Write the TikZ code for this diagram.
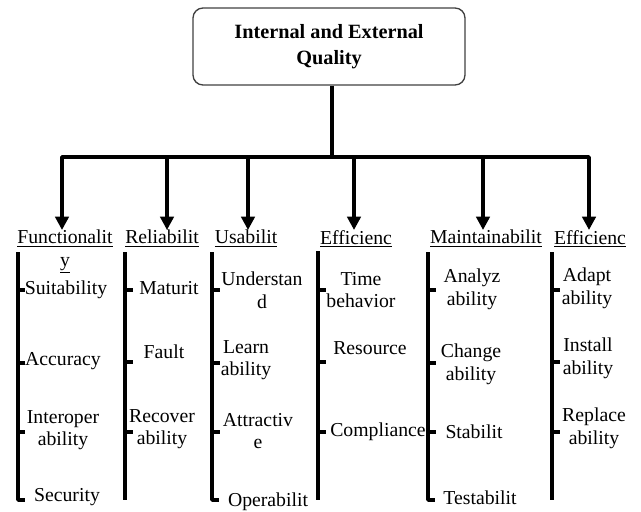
\documentclass[tikz,border=0pt]{standalone}
\usepackage{fontspec}
\setmainfont{Liberation Serif}
\usetikzlibrary{arrows.meta,positioning}

\begin{document}
\begin{tikzpicture}[x=0.75pt,y=-0.75pt,
	title/.style={rectangle,rounded corners=7.5pt,draw=black!75,line width=1pt,minimum width=204pt,minimum height=57.75pt,align=center,font=\fontsize{15.2}{19}\selectfont\bfseries},
	heading/.style={inner sep=0pt,anchor=north,align=center,font=\fontsize{14.8}{17}\selectfont},
	item/.style={inner sep=0pt,align=center,font=\fontsize{14.8}{17}\selectfont},
	branch/.style={line width=2.6pt,line join=round},
	paths/.style={-{Triangle[width=10pt,length=10pt]},line width=2.6pt,line join=round},
	stub/.style={line width=2.6pt,line join=round}
	]
\useasboundingbox (0,0) rectangle (641,511);

\node [title] (top) at (329,46.5) {Internal and External\\Quality};

% bar under the title
\coordinate (b0) at (332,157);
\coordinate (b1) at (62,157);
\coordinate (b2) at (167,157);
\coordinate (b3) at (248,157);
\coordinate (b4) at (354,157);
\coordinate (b5) at (483,157);
\coordinate (b6) at (589,157);

\node [heading] (h1) at (65,230) {\underline{Functionalit}\\\underline{y}};
\node [heading] (h2) at (162,230) {\underline{Reliabilit}};
\node [heading] (h3) at (246,230) {\underline{Usabilit}};
\node [heading] (h4) at (356,230) {\underline{Efficienc}};
\node [heading] (h5) at (486,230) {\underline{Maintainabilit}};
\node [heading] (h6) at (590,230) {\underline{Efficienc}};

\draw [branch] (top.south -| b0) -- (b0);
\draw [paths] (b0) -- (b1) -- (b1 |- h1.north);
\draw [paths] (b0) -- (b6) -- (b6 |- h6.north);
\draw [paths] (b2) -- (b2 |- h2.north);
\draw [paths] (b3) -- (b3 |- h3.north);
\draw [paths] (b4) -- (b4 |- h4.north);
\draw [paths] (b5) -- (b5 |- h5.north);

% sub items
\node [item] (f1) at (66,290) {Suitability};
\node [item] (f2) at (63,361) {Accuracy};
\node [item] (f3) at (63,430) {Interoper\\ability};
\node [item] (f4) at (67,497) {Security};

\node [item] (r1) at (169,288) {Maturit};
\node [item] (r2) at (164,352) {Fault};
\node [item] (r3) at (162,429) {Recover\\ability};

\node [item] (u1) at (262,290) {Understan\\d};
\node [item] (u2) at (246,360) {Learn\\ability};
\node [item] (u3) at (258,431) {Attractiv\\e};
\node [item] (u4) at (268,502) {Operabilit};

\node [item] (e1) at (361,290) {Time\\behavior};
\node [item] (e2) at (370,348) {Resource};
\node [item] (e3) at (378,432) {Compliance};

\node [item] (m1) at (472,289) {Analyz\\ability};
\node [item] (m2) at (471,364) {Change\\ability};
\node [item] (m3) at (474,432) {Stabilit};
\node [item] (m4) at (480,498) {Testabilit};

\node [item] (p1) at (587,288) {Adapt\\ability};
\node [item] (p2) at (588,358) {Install\\ability};
\node [item] (p3) at (594,428) {Replace\\ability};

% vertical bars
\coordinate (f0) at (18,252);
\coordinate (r0) at (125,252);
\coordinate (u0) at (212,252);
\coordinate (e0) at (318,251);
\coordinate (m0) at (428,252);
\coordinate (p0) at (552,252);

\draw [stub] (f0) -- (18,500) -- ++(7,0);
\draw [stub] (r0) -- (125,500);
\draw [stub] (u0) -- (212,500) -- ++(7,0);
\draw [stub] (e0) -- (318,500);
\draw [stub] (m0) -- (428,500) -- ++(7,0);
\draw [stub] (p0) -- (552,500);

% ticks
\draw [stub] (18,290) -- ++(7,0);
\draw [stub] (18,363) -- ++(7,0);
\draw [stub] (18,432) -- ++(7,0);
\draw [stub] (125,290) -- ++(8,0);
\draw [stub] (125,362) -- ++(8,0);
\draw [stub] (125,432) -- ++(8,0);
\draw [stub] (212,290) -- ++(8,0);
\draw [stub] (212,363) -- ++(8,0);
\draw [stub] (212,432) -- ++(8,0);
\draw [stub] (318,290) -- ++(8,0);
\draw [stub] (318,362) -- ++(8,0);
\draw [stub] (318,432) -- ++(8,0);
\draw [stub] (428,290) -- ++(8,0);
\draw [stub] (428,363) -- ++(8,0);
\draw [stub] (428,432) -- ++(8,0);
\draw [stub] (552,290) -- ++(8,0);
\draw [stub] (552,362) -- ++(8,0);
\draw [stub] (552,432) -- ++(8,0);
\end{tikzpicture}
\end{document}
